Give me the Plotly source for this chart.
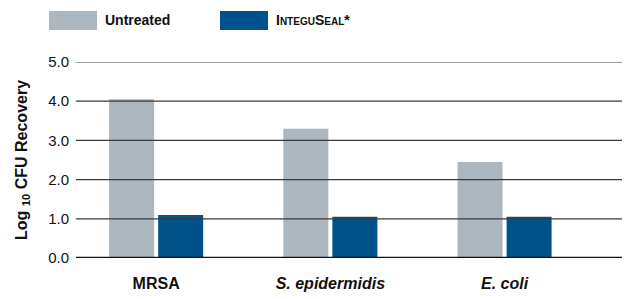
import plotly.graph_objects as go

categories = ["MRSA", "S. epidermidis", "E. coli"]
category_labels = ["<b>MRSA</b>", "<b><i>S. epidermidis</i></b>", "<b><i>E. coli</i></b>"]
untreated = [4.05, 3.30, 2.45]
integuseal = [1.10, 1.05, 1.05]
y_ticks = [0, 1, 2, 3, 4, 5]
y_tick_labels = ["0.0", "1.0", "2.0", "3.0", "4.0", "5.0"]

GREY = "#adb7c0"
BLUE = "#00528a"
FONT = "Liberation Sans, Arial, sans-serif"

fig = go.Figure()
fig.add_trace(go.Bar(x=categories, y=untreated, name="Untreated",
                     marker=dict(color=GREY, line=dict(width=0)), showlegend=False))
fig.add_trace(go.Bar(x=categories, y=integuseal, name="IntegUSeal*",
                     marker=dict(color=BLUE, line=dict(width=0)), showlegend=False))

# grid lines drawn above bars
shapes = []
for t in y_ticks:
    if t == 0:
        shapes.append(dict(type="line", xref="paper", yref="y", x0=0, x1=1, y0=t, y1=t,
                           line=dict(color="#111111", width=2.5), layer="above"))
    else:
        shapes.append(dict(type="line", xref="paper", yref="y", x0=0, x1=1, y0=t, y1=t,
                           line=dict(color="#3a3a3a", width=1.2), layer="above"))

# legend swatches
shapes.append(dict(type="rect", xref="paper", yref="paper", x0=-0.0487, x1=0.0379,
                   y0=1.163, y1=1.260, fillcolor=GREY, line=dict(width=0)))
shapes.append(dict(type="rect", xref="paper", yref="paper", x0=0.2599, x1=0.3466,
                   y0=1.163, y1=1.260, fillcolor=BLUE, line=dict(width=0)))

annotations = [
    dict(text="<b>Untreated</b>", xref="paper", yref="paper", x=0.0487, y=1.212,
         xanchor="left", yanchor="middle", showarrow=False,
         font=dict(family=FONT, size=14, color="#111111")),
    dict(text="<b>I<span style='font-size:10px'>NTEGU</span>S<span style='font-size:10px'>EAL</span>*</b>",
         xref="paper", yref="paper", x=0.3574, y=1.212,
         xanchor="left", yanchor="middle", showarrow=False,
         font=dict(family=FONT, size=14, color="#111111")),
    dict(text="<b>Log <sub>10</sub> CFU Recovery</b>", xref="paper", yref="paper",
         x=-0.0975, y=0.5, xanchor="center", yanchor="middle", textangle=-90,
         showarrow=False, font=dict(family=FONT, size=16, color="#111111")),
]

fig.update_layout(
    template="none",
    width=622, height=291,
    margin=dict(l=68, r=0, t=54, b=41, pad=0),
    paper_bgcolor="white", plot_bgcolor="white",
    barmode="group", bargap=0.437, bargroupgap=0.082,
    shapes=shapes, annotations=annotations,
    font=dict(family=FONT, color="#111111"),
    xaxis=dict(range=[-0.46, 2.72], tickvals=categories, ticktext=category_labels,
               showgrid=False, showline=False, zeroline=False, ticks="", automargin=False,
               ticklabelstandoff=14, tickfont=dict(family=FONT, size=16, color="#111111")),
    yaxis=dict(range=[0, 5.0], tickvals=y_ticks, ticktext=y_tick_labels,
               showgrid=False, showline=False, zeroline=False, ticks="", automargin=False,
               ticklabelstandoff=6, tickfont=dict(family=FONT, size=15, color="#111111")),
)

fig.write_html("out.html")
